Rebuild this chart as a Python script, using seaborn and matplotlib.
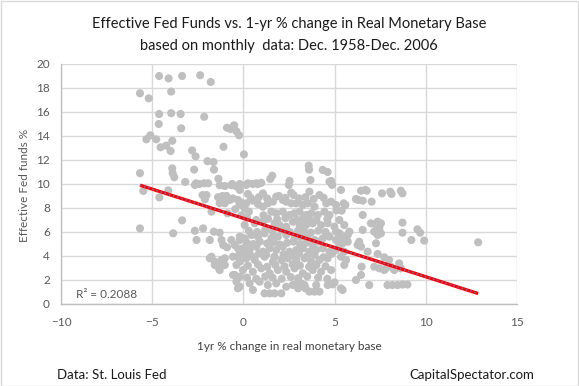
import numpy as np
import pandas as pd
import matplotlib
matplotlib.use("Agg")
import matplotlib.pyplot as plt
import seaborn as sns
from matplotlib.patches import Rectangle

# ---------------- data ----------------
# 1-yr % change in real monetary base (x) vs effective Fed funds % (y)
high_x = [-4.62, -4.10, -3.36, -2.37, -1.79, -5.67, -5.19, -3.96, -4.62, -3.96, -3.44, -2.15,
          -4.64, -3.41, -0.90, -0.71, -0.51, -0.38, -0.24, -5.10, -5.32, -4.78, -3.90,
          -4.54, -4.23, -3.99, -2.81, -2.62, -1.09, 0.03, -1.97, -1.64, -2.70, -1.61,
          -3.90, -3.88, -3.79, -5.67, -1.37, 1.58, 3.58, 3.60, 4.35, 4.62]
high_y = [19.0, 18.8, 19.0, 19.06, 18.5, 17.56, 17.14, 17.7, 15.83, 15.9, 15.83, 15.6,
          15.0, 14.64, 14.69, 14.58, 14.89, 14.39, 14.06, 14.06, 13.72, 13.72, 13.6,
          13.06, 13.2, 12.75, 12.8, 12.3, 13.1, 12.47, 11.9, 11.83, 11.2, 11.2,
          11.3, 10.9, 10.56, 10.9, 10.44, 10.69, 11.53, 11.2, 11.17, 11.0]

left_x = [-3.19, -2.60, -2.15, -1.93, -0.62, -0.20, -2.66, -2.42, -1.30, -1.02, -0.66, -0.38, -0.20,
          -5.49, -4.61, -4.12, -2.24, -2.02, -2.11, -1.39, -1.15, -0.93, -0.75, -0.57, -1.30,
          -1.02, -0.30, -0.20, -1.75, -0.87, -3.36, -5.67, -3.85, -2.66, -2.57, -2.21, -1.84,
          -1.62, -1.30, -1.20, -1.11, -0.90, -0.66, -0.48, -0.20, -0.30, -0.20, -1.84, -1.57,
          -1.39, -1.30, -1.20, -1.02, -1.75, -1.57, -1.02, -0.57, -0.30, -0.20, -0.38, -0.48,
          -0.20, -0.57, -0.30, -0.20, -0.38, -0.10, -0.45, 0.30, 0.05]
left_y = [10.17, 10.06, 10.06, 10.06, 10.0, 10.0, 9.92, 10.0, 9.9, 9.83, 9.9, 9.8, 9.5,
          9.42, 8.88, 9.47, 9.08, 9.08, 8.72, 8.9, 9.0, 9.0, 8.67, 8.8, 8.4,
          8.4, 8.67, 8.3, 7.7, 7.56, 6.97, 6.3, 5.89, 6.1, 5.33, 6.3, 5.33,
          6.03, 5.94, 5.33, 4.92, 4.72, 5.33, 4.92, 5.33, 4.64, 4.36, 3.81, 3.53,
          3.11, 2.83, 3.67, 3.81, 3.94, 3.25, 3.25, 3.94, 3.94, 3.53, 3.25, 2.42,
          2.28, 2.42, 1.31, 1.44, 1.86, 7.4, 7.9, 7.7, 8.0]

core_x = [0.25, 0.71, 0.98, 1.47, 2.53, 3.68, 4.81, 2.49, 4.72, 4.86, 0.16, 0.52, 0.80,
          0.25, 1.07, 1.95, 2.62, 2.75, 3.62, 4.17,
          0.40, 0.85, 1.30, 1.80, 2.30, 3.05, 3.40, 3.85, 4.40,
          -0.11, 0.16, 0.52, 0.80, 1.07, 1.34, 1.62, 2.16, 2.35, 2.62, 2.90, 3.26, 3.53, 3.90, 4.54, 4.81, 5.08,
          1.53, 1.80, 2.16, 2.53, 2.80, 3.08, 3.44, 3.72, 4.08, 4.44, 4.72, 0.20, 0.70, 1.10,
          1.35, 1.85, 2.30, 2.95, 3.25, 3.60, 4.00, 4.60,
          0.07, 0.62, 1.07, 1.71, 1.98, 2.35, 2.71, 3.08, 3.44, 3.80, 4.26, 4.62, 4.99,
          0.30, 0.75, 1.20, 1.60, 2.10, 2.55, 3.00, 3.30, 3.70, 4.10, 4.50,
          -0.20, 0.07, 0.44, 0.80, 1.16, 1.53, 1.89, 2.35, 2.80, 3.16, 3.53, 3.90, 4.35, 4.72, 5.08,
          0.20, 0.55, 0.90, 1.30, 1.65, 2.00, 2.40, 2.75, 3.10, 3.45, 3.80, 4.10,
          -0.02, 0.34, 0.71, 1.07, 1.44, 1.80, 2.16, 2.53, 2.90, 3.26, 3.62, 3.99, 4.35, 4.72, 5.08,
          0.10, 0.45, 0.85, 1.25, 1.70, 2.20, 2.65, 3.05, 3.50, 3.90, 4.40, 4.85,
          0.16, 0.62, 1.16, 1.62, 2.08, 2.44, 2.90, 3.35, 3.72, 4.17, 4.62,
          0.25, 0.80, 1.30, 1.75, 2.25, 2.70, 3.10, 3.60, 4.00, 4.50,
          -0.02, 0.52, 0.98, 1.44, 1.89, 2.35, 2.80, 3.26, 3.80, 4.26, 4.81,
          0.20, 0.70, 1.20, 1.60, 2.10, 2.60, 3.00, 3.50, 4.10, 4.60,
          0.34, 0.89, 1.34, 1.80, 2.35, 2.71, 3.16, 3.99, 4.62, 2.80, 3.35, 4.90,
          0.52, 1.16, 1.44, 1.71, 2.08, 3.62, 3.90, 4.17, 3.00, 3.40]
core_y = [10.06, 10.06, 10.1, 10.42, 10.25, 10.33, 10.25, 9.92, 10.19, 9.92, 9.92, 10.0, 10.0,
          9.17, 9.22, 9.0, 9.28, 9.08, 9.36, 9.08,
          8.85, 8.9, 8.8, 8.95, 8.85, 8.8, 8.9, 8.75, 8.85,
          8.44, 8.39, 8.61, 8.33, 8.11, 8.39, 8.53, 8.67, 8.53, 8.39, 8.39, 8.25, 8.39, 8.11, 8.39, 8.53, 8.25,
          7.69, 7.56, 7.69, 7.42, 7.56, 7.69, 7.42, 7.56, 7.42, 7.69, 7.42, 7.2, 7.0, 7.4,
          7.1, 7.05, 7.15, 7.0, 7.1, 7.05, 7.0, 7.1,
          6.58, 6.72, 6.86, 6.72, 6.58, 6.44, 6.86, 6.58, 6.58, 6.72, 6.58, 6.72, 6.44,
          6.1, 6.0, 6.2, 6.05, 6.15, 6.0, 6.1, 6.2, 5.95, 6.1, 6.0,
          5.61, 5.47, 5.75, 5.61, 5.89, 5.47, 5.61, 5.75, 5.47, 5.61, 5.75, 5.33, 5.47, 5.61, 5.33,
          5.1, 5.0, 5.2, 5.05, 5.15, 4.95, 5.1, 5.2, 5.0, 5.1, 4.9, 5.2,
          4.64, 4.5, 4.78, 4.36, 4.64, 4.5, 4.78, 4.36, 4.5, 4.64, 4.36, 4.5, 4.64, 4.36, 4.5,
          4.1, 4.0, 4.2, 4.1, 3.95, 4.15, 4.05, 4.2, 4.0, 4.1, 3.9, 4.2,
          3.81, 3.67, 3.94, 3.53, 3.67, 3.81, 3.67, 3.81, 3.53, 3.67, 3.81,
          3.2, 3.3, 3.1, 3.25, 3.15, 3.3, 3.2, 3.1, 3.25, 3.15,
          2.83, 2.69, 2.97, 2.56, 2.83, 2.69, 2.97, 2.56, 2.83, 2.69, 2.83,
          2.2, 2.1, 2.3, 2.2, 2.1, 2.25, 2.15, 2.3, 2.2, 2.1,
          1.72, 1.86, 1.58, 1.72, 1.44, 1.58, 1.72, 1.58, 1.58, 1.58, 1.58, 1.64,
          1.17, 0.89, 0.89, 0.89, 0.89, 1.03, 1.03, 1.03, 1.31, 1.31]

right_x = [5.35, 6.45, 6.76, 6.30, 6.54, 7.03, 7.60, 8.05, 8.12, 8.63, 8.72, 6.68, 6.17,
           5.50, 5.59, 5.39, 5.10, 6.54, 5.26, 5.53, 6.99, 7.27, 7.36, 7.54, 7.45, 7.17, 7.36,
           7.54, 6.54, 8.72, 8.72, 9.21, 9.54, 9.69, 9.91, 12.87,
           5.08, 5.26, 5.44, 5.72, 5.81, 5.17, 5.44, 5.72, 5.26, 5.53, 5.35, 5.63, 5.53,
           6.35, 6.26, 6.45, 7.27, 6.81, 7.36, 7.72, 7.99, 6.48, 6.45, 7.17, 7.45, 7.72,
           8.09, 8.27, 8.54, 8.63, 7.81, 6.17, 6.90, 7.90, 8.17, 8.45, 8.72, 8.99, 5.35,
           5.00, 5.44]
right_y = [9.5, 9.44, 9.44, 8.67, 8.61, 8.53, 9.22, 9.36, 9.17, 9.44, 9.22, 9.5, 8.75,
           8.39, 8.25, 7.78, 7.8, 7.42, 7.0, 6.58, 6.72, 6.58, 6.86, 6.72, 6.3, 6.03, 5.75,
           5.89, 6.17, 6.78, 5.94, 5.33, 6.22, 5.94, 5.28, 5.14,
           6.03, 5.89, 5.61, 5.75, 6.03, 5.33, 5.06, 5.19, 4.78, 4.36, 3.94, 3.67, 3.25,
           5.19, 4.92, 4.78, 5.06, 4.36, 4.17, 3.89, 3.67, 3.11, 2.42, 3.11, 2.97, 2.83,
           3.11, 2.83, 3.39, 2.97, 2.97, 2.0, 1.58, 1.58, 1.58, 1.58, 1.62, 1.62, 1.31,
           1.8, 1.17]

trend_slope = -0.487
trend_intercept = 7.14
r2_label = "R² = 0.2088"

x_ticks = [-10, -5, 0, 5, 10, 15]
y_ticks = [0, 2, 4, 6, 8, 10, 12, 14, 16, 18, 20]

title_lines = ["Effective Fed Funds vs. 1-yr % change in Real Monetary Base",
               "based on monthly  data: Dec. 1958-Dec. 2006"]
x_label = "1yr % change in real monetary base"
y_label = "Effective Fed funds %"
source_text = "Data: St. Louis Fed"
brand_text = "CapitalSpectator.com"

# ---------------- build frame ----------------
df = pd.DataFrame({
    "mb_change": high_x + left_x + core_x + right_x,
    "fed_funds": high_y + left_y + core_y + right_y,
})

sns.set_theme(style="white")
plt.rcParams["font.family"] = ["Lato", "DejaVu Sans"]

W, H = 579, 386
fig = plt.figure(figsize=(W / 100, H / 100), dpi=100)
L, R, T, B = 61, 517, 64, 304
ax = fig.add_axes([L / W, 1 - B / H, (R - L) / W, (B - T) / H])

sns.scatterplot(data=df, x="mb_change", y="fed_funds", ax=ax, s=34,
                color="#BFBFBF", edgecolor="none", linewidth=0, zorder=3)

# linear trendline over the data range
tx = np.array([df["mb_change"].min(), df["mb_change"].max()])
ty = trend_intercept + trend_slope * tx
ax.plot(tx, ty, color="#FF0000", lw=2.4, zorder=4, solid_capstyle="butt")
ax.plot(tx, ty, color="#5B7BC8", lw=1.2, ls=(0, (0.8, 1.8)), zorder=5)

ax.set_xlim(-10, 15)
ax.set_ylim(0, 20)
ax.set_xticks(x_ticks)
ax.set_yticks(y_ticks)
ax.grid(True, color="#D9D9D9", lw=1.0, zorder=0)
ax.set_axisbelow(True)
for side in ["top", "right"]:
    ax.spines[side].set_visible(False)
for side in ["left", "bottom"]:
    ax.spines[side].set_color("#BFBFBF")
    ax.spines[side].set_linewidth(1.0)
ax.tick_params(axis="both", length=0, labelsize=8.5, labelcolor="#595959")
ax.tick_params(axis="x", pad=9)
ax.tick_params(axis="y", pad=8)
ax.set_xlabel("")
ax.set_ylabel("")

fig.text(289 / W, 1 - 24 / H, title_lines[0], ha="center", va="center",
         fontsize=10.5, color="#1a1a1a")
fig.text(289 / W, 1 - 46 / H, title_lines[1], ha="center", va="center",
         fontsize=10.5, color="#1a1a1a")
fig.text(289 / W, 1 - 346 / H, x_label, ha="center", va="center",
         fontsize=8.5, color="#404040")
fig.text(25 / W, 1 - 185 / H, y_label, ha="center", va="center",
         rotation=90, fontsize=8.5, color="#595959")
fig.text(76 / W, 1 - 294 / H, r2_label, ha="left", va="center",
         fontsize=8.5, color="#595959")
fig.text(57 / W, 1 - 375 / H, source_text, ha="left", va="center",
         fontsize=9.5, color="#1a1a1a")
fig.text(534 / W, 1 - 375 / H, brand_text, ha="right", va="center",
         fontsize=9.5, color="#1a1a1a")

fig.patches.append(Rectangle((0.5 / W, 0.5 / H), 1 - 1.5 / W, 1 - 1.5 / H,
                             transform=fig.transFigure, fill=False,
                             edgecolor="#D9D9D9", lw=1.0))

fig.savefig("out.png", dpi=100)
